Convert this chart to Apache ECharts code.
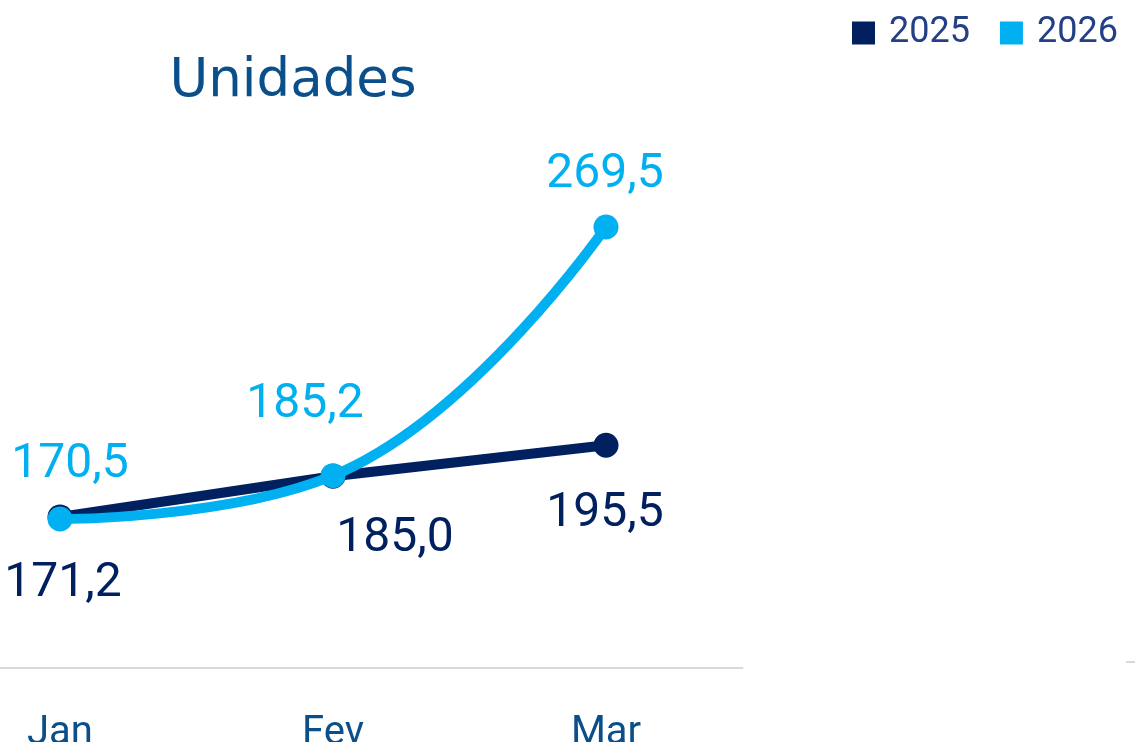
<!DOCTYPE html>
<html>
<head>
<meta charset="utf-8">
<script src="https://cdn.jsdelivr.net/npm/echarts@6/dist/echarts.min.js"></script>
<style>
  html, body { margin: 0; padding: 0; background: #fff; }
  #chart { width: 1135px; height: 742px; }
</style>
</head>
<body>
<div id="chart"></div>
<script>
const months = ['Jan', 'Fev', 'Mar'];
const values2025 = [171.2, 185.0, 195.5];
const values2026 = [170.5, 185.2, 269.5];
const seriesNames = ['2025', '2026'];

// label offsets from the point (px)
const offsets2025 = [[3, 67], [62, 63], [-1, 69]];
const offsets2026 = [[10, -54], [-28, -71], [-1, -52]];

const navy = '#002060';
const sky = '#00B0F0';

const fmt = v => v.toFixed(1).replace('.', ',');

const withLabels = (vals, offs, color) => vals.map((v, i) => ({
  value: v,
  label: {
    show: true,
    position: 'inside',
    offset: offs[i],
    formatter: fmt(v),
    color: color,
    fontFamily: 'Roboto',
    fontSize: 48
  }
}));

const chart = echarts.init(document.getElementById('chart'));

chart.setOption({
  animation: false,
  title: {
    text: 'Unidades',
    left: 288,
    top: 51,
    textAlign: 'center',
    textStyle: {
      fontFamily: 'DejaVu Sans',
      fontWeight: 'normal',
      fontSize: 53,
      color: '#0B4F8A'
    }
  },
  legend: {
    left: 847,
    top: 10,
    itemWidth: 23,
    itemHeight: 23,
    itemGap: 30,
    icon: 'rect',
    textStyle: {
      fontFamily: 'Roboto',
      fontSize: 36,
      color: '#233F85',
      padding: [0, 0, 0, 9]
    },
    data: seriesNames
  },
  grid: {
    left: -76.5,
    width: 819,
    top: 137,
    bottom: 74,
    containLabel: false,
    outerBoundsMode: 'none'
  },
  xAxis: {
    type: 'category',
    data: months,
    boundaryGap: true,
    axisLine: { lineStyle: { color: '#d9d9d9', width: 2 } },
    axisTick: { show: false },
    axisLabel: {
      margin: 46,
      fontFamily: 'Roboto',
      fontSize: 40,
      color: '#0B4F8A'
    }
  },
  yAxis: {
    type: 'value',
    min: 120,
    max: 300,
    show: false,
    splitLine: { show: false }
  },
  graphic: [{
    type: 'rect',
    shape: { x: 1126, y: 661, width: 9, height: 2 },
    style: { fill: '#d9d9d9' }
  }],
  series: [
    {
      name: seriesNames[0],
      type: 'line',
      data: withLabels(values2025, offsets2025, navy),
      symbol: 'circle',
      symbolSize: 25,
      lineStyle: { color: navy, width: 10 },
      itemStyle: { color: navy },
      z: 2
    },
    {
      name: seriesNames[1],
      type: 'line',
      data: withLabels(values2026, offsets2026, sky),
      smooth: 0.45,
      symbol: 'circle',
      symbolSize: 25,
      lineStyle: { color: sky, width: 10 },
      itemStyle: { color: sky },
      z: 3
    }
  ]
});
</script>
</body>
</html>
